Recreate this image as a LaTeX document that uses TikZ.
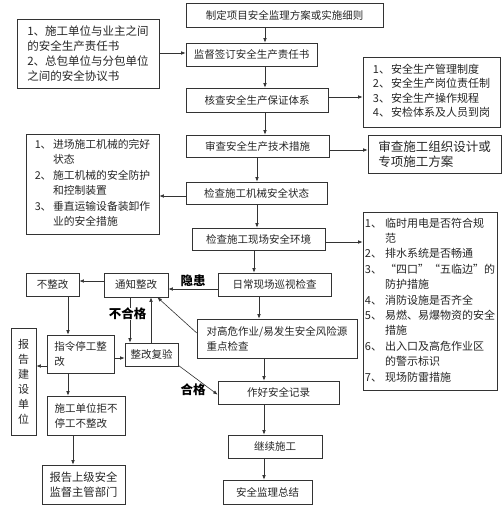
\documentclass[tikz,border=0pt]{standalone}
\usepackage{fontspec}
\setmainfont{Noto Sans CJK SC}
\usetikzlibrary{arrows.meta}
\tikzset{
  box/.style={draw=black!80, line width=0.7pt, fill=white, inner sep=1pt, text=black!85,
    font=\fontsize{10.5}{13}\selectfont},
  listbox/.style={box, font=\fontsize{11}{15}\selectfont},
  arr/.style={-{Latex[length=4.5pt,width=3.6pt]}, line width=0.6pt, draw=black!80},
  lbl/.style={font=\bfseries\fontsize{12.5}{14}\selectfont, inner sep=0.5pt, text=black}
}
\begin{document}
\begin{tikzpicture}[x=1pt,y=-1pt]
\useasboundingbox[fill=white] (0,0) rectangle (502,512);
% column / level coordinates
\coordinate (x265) at (265,0);
\coordinate (x257) at (257,0);
\coordinate (x254) at (254,0);
\coordinate (x259) at (259,0);
\coordinate (x264) at (264,0);
\coordinate (x68) at (68,0);
\coordinate (x73) at (73,0);
\coordinate (x130) at (130,0);
\coordinate (x151) at (151,0);
\coordinate (y53) at (0,53);
\coordinate (y97) at (0,97);
\coordinate (y150) at (0,150);
\coordinate (y196) at (0,196);
\coordinate (y242) at (0,242);
\coordinate (y281) at (0,281);
\coordinate (y289) at (0,289);
\coordinate (y358) at (0,358);
\coordinate (y366) at (0,366);

% main column
\node[box, minimum width=197pt, minimum height=24pt] (b1) at (284.5,15) {制定项目安全监理方案或实施细则};
\node[box, minimum width=131pt, minimum height=23pt] (b2) at (251.5,54.5) {监督签订安全生产责任书};
\node[box, minimum width=142pt, minimum height=24pt] (b3) at (257,100) {核查安全生产保证体系};
\node[box, minimum width=143pt, minimum height=22pt] (b4) at (257.5,146) {审查安全生产技术措施};
\node[box, minimum width=141pt, minimum height=22pt] (b5) at (256.5,193) {检查施工机械安全状态};
\node[box, minimum width=133pt, minimum height=22pt] (b6) at (258.5,239) {检查施工现场安全环境};
\node[box, minimum width=113pt, minimum height=23pt] (b7) at (274.5,284.5) {日常现场巡视检查};
\node[box, minimum width=160pt, minimum height=39pt, align=left, font=\fontsize{10.5}{15}\selectfont] (b8) at (277,338.5) {对高危作业/易发生安全风险源\\重点检查};
\node[box, minimum width=121pt, minimum height=23pt] (b9) at (278.5,392.5) {作好安全记录};
\node[box, minimum width=94pt, minimum height=23pt] (b10) at (275,446.5) {继续施工};
\node[box, minimum width=89pt, minimum height=24pt] (b11) at (267.5,492) {安全监理总结};

% side boxes
\node[box, minimum width=142pt, minimum height=69pt, align=left, font=\fontsize{11.5}{15}\selectfont] (L1) at (88,53.5)
  {1、施工单位与业主之间\\的安全生产责任书\\2、总包单位与分包单位\\之间的安全协议书};
\node[listbox, minimum width=137pt, minimum height=70pt, font=\fontsize{11}{14.5}\selectfont] (R1) at (431.5,92)
  {\begin{tabular}{@{}l@{\hspace{1pt}}l@{}}1、&安全生产管理制度\\2、&安全生产岗位责任制\\3、&安全生产操作规程\\4、&安检体系及人员到岗\end{tabular}};
\node[box, minimum width=133pt, minimum height=38pt, align=left, font=\fontsize{12.5}{15}\selectfont] (R2) at (434.5,154)
  {审查施工组织设计或\\专项施工方案};
\node[listbox, minimum width=133pt, minimum height=100pt, font=\fontsize{10.8}{15.4}\selectfont] (L2) at (92.5,184)
  {\begin{tabular}{@{}l@{\hspace{1.5pt}}l@{}}1、&进场施工机械的完好\\&状态\\2、&施工机械的安全防护\\&和控制装置\\3、&垂直运输设备装卸作\\&业的安全措施\end{tabular}};
\node[listbox, minimum width=134pt, minimum height=178pt, font=\fontsize{11}{15.4}\selectfont] (R3) at (430,301)
  {\begin{tabular}{@{}l@{\hspace{3pt}}l@{}}1、&临时用电是否符合规\\&范\\2、&排水系统是否畅通\\3、&“四口”“五临边”的\\&防护措施\\4、&消防设施是否齐全\\5、&易燃、易爆物资的安全\\&措施\\6、&出入口及高危作业区\\&的警示标识\\7、&现场防雷措施\end{tabular}};

% lower left
\node[box, minimum width=53pt, minimum height=23pt] (BZG) at (52.5,284.5) {不整改};
\node[box, minimum width=64pt, minimum height=24pt] (TZ) at (136,285) {通知整改};
\node[box, minimum width=67pt, minimum height=38pt, align=left, font=\fontsize{10.5}{15}\selectfont] (ZL) at (80.5,354) {指令停工整\\改};
\node[box, minimum width=53pt, minimum height=23pt] (FY) at (151.5,354.5) {整改复验};
\node[box, minimum width=25pt, minimum height=107pt, align=center, font=\fontsize{11}{15}\selectfont] (BG) at (23.5,381.5) {报\\告\\建\\设\\单\\位};
\node[box, minimum width=78pt, minimum height=39pt, align=left, font=\fontsize{10.5}{15}\selectfont] (JJ) at (86,415.5) {施工单位拒不\\停工不整改};
\node[box, minimum width=83pt, minimum height=39pt, align=left, font=\fontsize{11.3}{15}\selectfont] (SJ) at (83.5,484.5) {报告上级安全\\监督主管部门};

% main column arrows
\draw[arr] (b1.south -| x265) -- (b2.north -| x265);
\draw[arr] (b2.south -| x265) -- (b3.north -| x265);
\draw[arr] (b3.south -| x265) -- (b4.north -| x265);
\draw[arr] (b4.south -| x257) -- (b5.north -| x257);
\draw[arr] (b5.south -| x257) -- (b6.north -| x257);
\draw[arr] (b6.south -| x254) -- (b7.north -| x254);
\draw[arr] (b7.south -| x259) -- (b8.north -| x259);
\draw[arr] (b8.south -| x264) -- (b9.north -| x264);
\draw[arr] (b9.south -| x264) -- (b10.north -| x264);
\draw[arr] (b10.south -| x264) -- (b11.north -| x264);

% side arrows
\draw[arr] (L1.east |- y53) -- (b2.west |- y53);
\draw[arr] (b3.east |- y97) -- (R1.west |- y97);
\draw[arr] (b4.east |- y150) -- (R2.west |- y150);
\draw[arr] (b5.west |- y196) -- (L2.east |- y196);
\draw[arr] (b6.east |- y242) -- (R3.west |- y242);

% lower left arrows
\draw[arr] (b7.west |- y289) -- (TZ.east |- y289);
\node[lbl] (lh) at (193,281) {隐患};
\draw[arr] (TZ.west |- y281) -- (BZG.east |- y281);
\draw[arr] (BZG.south -| x68) -- (ZL.north -| x68);
\draw[arr] (ZL.east |- y358) -- (FY.west |- y358);
\draw[arr] (TZ.south -| x130) -- (FY.north -| x130);
\draw[arr] (FY.north -| x151) -- (TZ.south -| x151);
\node[lbl, fill=white] (bhg) at (127.5,314) {不合格};
\draw[arr] (b8.176) -- (TZ.-30);
\draw[arr] (FY.-22) -- (b9.182);
\node[lbl] (hg) at (193,390) {合格};
\draw[arr] (ZL.west |- y366) -- (BG.east |- y366);
\draw[arr] (ZL.south -| x68) -- (JJ.north -| x68);
\draw[arr] (JJ.south -| x73) -- (SJ.north -| x73);
\end{tikzpicture}
\end{document}
